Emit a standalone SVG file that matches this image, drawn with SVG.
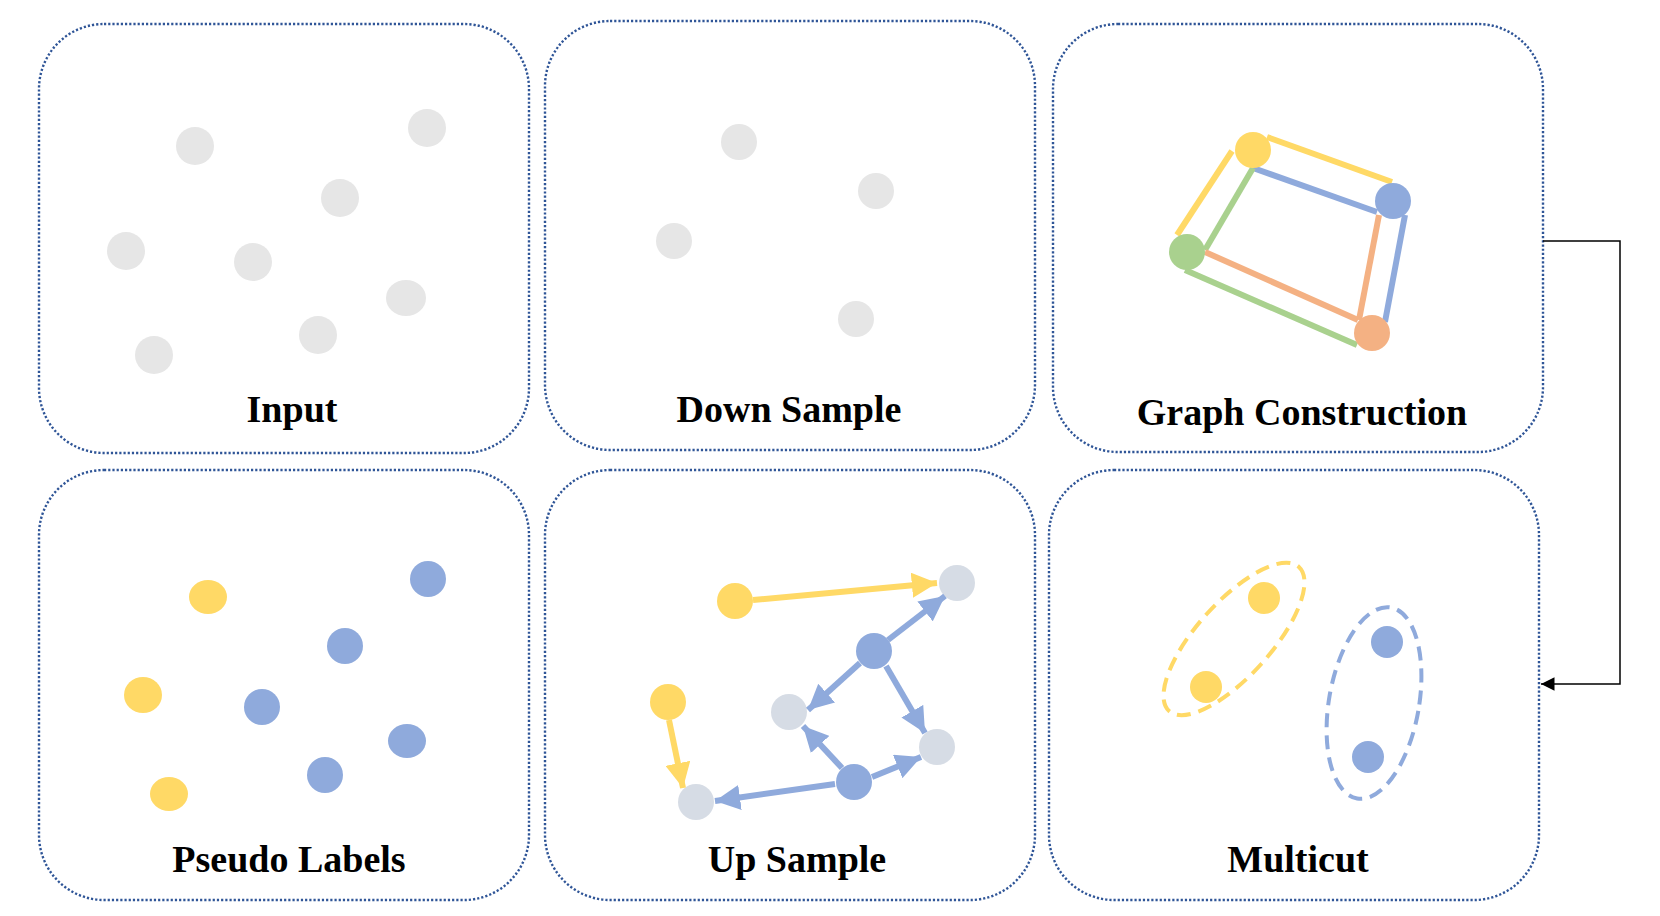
<svg xmlns="http://www.w3.org/2000/svg" width="1660" height="916" viewBox="0 0 1660 916">
<style>
.box{fill:none;stroke:#2F5597;stroke-width:2.4;stroke-dasharray:2.2 2}
.lbl{font-family:"Liberation Serif","Times New Roman",serif;font-weight:bold;font-size:38px;fill:#000;text-anchor:middle}
.gray{fill:#E6E6E6}
.y{fill:#FFD966}
.b{fill:#8FAADC}
.g{fill:#A9D18E}
.o{fill:#F4B183}
.lg{fill:#D6DCE5}
.e{stroke-width:6;fill:none}
.ay{stroke:#FFD966;stroke-width:6;fill:none}
.ab{stroke:#8FAADC;stroke-width:6;fill:none}
</style>
<defs>
<marker id="hy" viewBox="0 0 10 10" refX="10" refY="5" markerWidth="4.2" markerHeight="4.2" orient="auto" markerUnits="strokeWidth"><path d="M0,0 L10,5 L0,10 z" fill="#FFD966"/></marker>
<marker id="hb" viewBox="0 0 10 10" refX="10" refY="5" markerWidth="4.2" markerHeight="4.2" orient="auto" markerUnits="strokeWidth"><path d="M0,0 L10,5 L0,10 z" fill="#8FAADC"/></marker>
<marker id="hk" viewBox="0 0 10 10" refX="10" refY="5" markerWidth="9" markerHeight="9" orient="auto" markerUnits="strokeWidth"><path d="M0,0 L10,5 L0,10 z" fill="#000"/></marker>
</defs>
<rect width="1660" height="916" fill="#fff"/>

<g id="input">
<rect class="box" x="39" y="24" width="490" height="429" rx="65" ry="65"/>
<circle class="gray" cx="195" cy="146" r="19"/>
<circle class="gray" cx="427" cy="128" r="19"/>
<circle class="gray" cx="340" cy="198" r="19"/>
<circle class="gray" cx="126" cy="251" r="19"/>
<circle class="gray" cx="253" cy="262" r="19"/>
<ellipse class="gray" cx="406" cy="298" rx="20" ry="18"/>
<circle class="gray" cx="318" cy="335" r="19"/>
<circle class="gray" cx="154" cy="355" r="19"/>
<text class="lbl" x="292" y="422">Input</text>
</g>

<g id="downsample">
<rect class="box" x="545" y="21" width="490" height="429" rx="65" ry="65"/>
<circle class="gray" cx="739" cy="142" r="18"/>
<circle class="gray" cx="876" cy="191" r="18"/>
<circle class="gray" cx="674" cy="241" r="18"/>
<circle class="gray" cx="856" cy="319" r="18"/>
<text class="lbl" x="789" y="422">Down Sample</text>
</g>

<g id="graphconstruction">
<rect class="box" x="1053" y="24" width="490" height="428" rx="65" ry="65"/>
<line class="e" stroke="#FFD966" x1="1232" y1="151" x2="1177" y2="235"/>
<line class="e" stroke="#FFD966" x1="1267" y1="137" x2="1392" y2="182"/>
<line class="e" stroke="#8FAADC" x1="1253" y1="168" x2="1377" y2="212"/>
<line class="e" stroke="#A9D18E" x1="1253" y1="168" x2="1205" y2="250"/>
<line class="e" stroke="#F4B183" x1="1205" y1="252" x2="1358" y2="320"/>
<line class="e" stroke="#A9D18E" x1="1185" y1="270" x2="1357" y2="345"/>
<line class="e" stroke="#F4B183" x1="1379" y1="215" x2="1359" y2="320"/>
<line class="e" stroke="#8FAADC" x1="1405" y1="215" x2="1385" y2="322"/>
<circle class="y" cx="1253" cy="150" r="18"/>
<circle class="b" cx="1393" cy="201" r="18"/>
<circle class="g" cx="1187" cy="252" r="18"/>
<circle class="o" cx="1372" cy="333" r="18"/>
<text class="lbl" x="1302" y="425">Graph Construction</text>
</g>

<g id="pseudolabels">
<rect class="box" x="39" y="470" width="490" height="430" rx="65" ry="65"/>
<ellipse class="y" cx="208" cy="597" rx="19" ry="17"/>
<circle class="b" cx="428" cy="579" r="18"/>
<circle class="b" cx="345" cy="646" r="18"/>
<ellipse class="y" cx="143" cy="695" rx="19" ry="18"/>
<circle class="b" cx="262" cy="707" r="18"/>
<ellipse class="b" cx="407" cy="741" rx="19" ry="17"/>
<circle class="b" cx="325" cy="775" r="18"/>
<ellipse class="y" cx="169" cy="794" rx="19" ry="17"/>
<text class="lbl" x="289" y="872">Pseudo Labels</text>
</g>

<g id="upsample">
<rect class="box" x="545" y="470" width="490" height="430" rx="65" ry="65"/>
<circle class="y" cx="735" cy="601" r="18"/>
<circle class="lg" cx="957" cy="583" r="18"/>
<circle class="b" cx="874" cy="651" r="18"/>
<circle class="y" cx="668" cy="702" r="18"/>
<circle class="lg" cx="789" cy="712" r="18"/>
<circle class="lg" cx="937" cy="747" r="18"/>
<circle class="b" cx="854" cy="782" r="18"/>
<circle class="lg" cx="696" cy="802" r="18"/>
<text class="lbl" x="797" y="872">Up Sample</text>
</g>

<g id="multicut">
<rect class="box" x="1049" y="470" width="490" height="430" rx="65" ry="65"/>
<ellipse cx="1234" cy="639" rx="97" ry="37" transform="rotate(-48 1234 639)" fill="none" stroke="#FFD966" stroke-width="4" stroke-dasharray="14 8"/>
<ellipse cx="1374" cy="703" rx="45" ry="97" transform="rotate(10 1374 703)" fill="none" stroke="#8FAADC" stroke-width="4" stroke-dasharray="14 8"/>
<circle class="y" cx="1264" cy="598" r="16"/>
<circle class="y" cx="1206" cy="687" r="16"/>
<circle class="b" cx="1387" cy="642" r="16"/>
<circle class="b" cx="1368" cy="757" r="16"/>
<text class="lbl" x="1298" y="872">Multicut</text>
</g>

<g id="connectors">
<line class="ay" x1="753" y1="600" x2="937" y2="583" marker-end="url(#hy)"/>
<line class="ay" x1="669" y1="720" x2="683" y2="788" marker-end="url(#hy)"/>
<line class="ab" x1="888" y1="640" x2="945" y2="596" marker-end="url(#hb)"/>
<line class="ab" x1="860" y1="663" x2="808" y2="710" marker-end="url(#hb)"/>
<line class="ab" x1="886" y1="666" x2="925" y2="733" marker-end="url(#hb)"/>
<line class="ab" x1="842" y1="768" x2="803" y2="726" marker-end="url(#hb)"/>
<line class="ab" x1="872" y1="777" x2="921" y2="757" marker-end="url(#hb)"/>
<line class="ab" x1="835" y1="784" x2="715" y2="801" marker-end="url(#hb)"/>
<polyline points="1543,241 1620,241 1620,684 1541,684" fill="none" stroke="#000" stroke-width="1.5" marker-end="url(#hk)"/>
</g>
</svg>
